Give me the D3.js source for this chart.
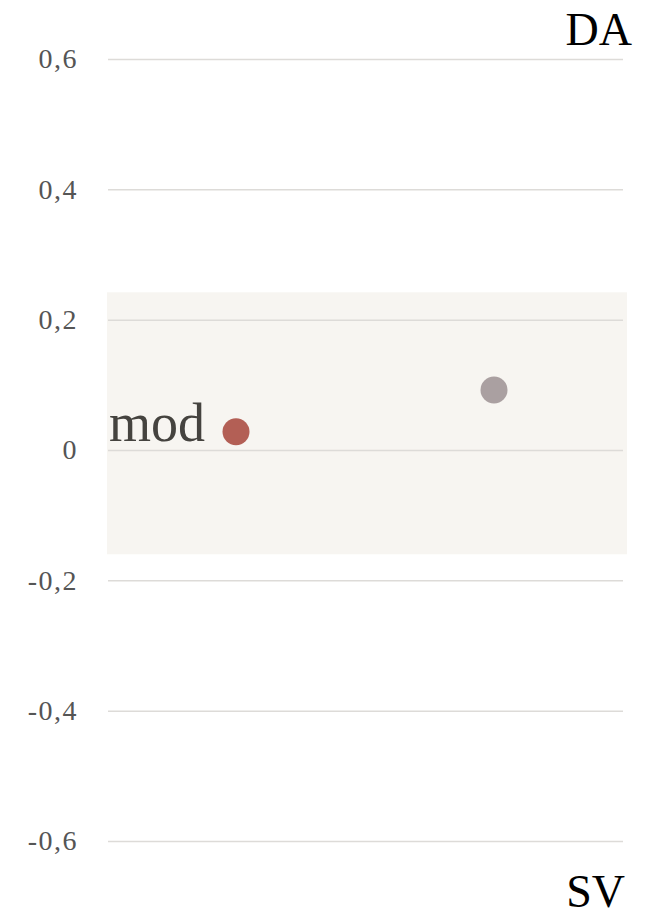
<!DOCTYPE html>
<html>
<head>
<meta charset="utf-8">
<script src="https://cdn.jsdelivr.net/npm/d3@7"></script>
<style>
  html, body { margin: 0; padding: 0; background: #fff; }
  svg { display: block; }
</style>
</head>
<body>
<svg id="chart" width="651" height="917"></svg>
<script>
// ---- data ----
const categories = ["mod", "other"];
const values = [0.028, 0.092];
const pointColors = ["#b35f55", "#aaa0a1"];
const pointLabels = ["mod", ""];
const yTicks = [-0.6, -0.4, -0.2, 0, 0.2, 0.4, 0.6];
const bandRange = [-0.16, 0.242];
const topLabel = "DA";
const bottomLabel = "SV";

// ---- layout ----
const svg = d3.select("#chart");
const plotLeft = 107, plotRight = 627;
const y = d3.scaleLinear().domain([-0.6, 0.6]).range([841, 59]);
const x = d3.scalePoint().domain(categories).range([plotLeft, plotRight - 4]).padding(0.5);
const serif = "'Liberation Serif', 'DejaVu Serif', serif";

// band
svg.append("rect")
  .attr("x", plotLeft).attr("width", plotRight - plotLeft)
  .attr("y", y(bandRange[1])).attr("height", y(bandRange[0]) - y(bandRange[1]))
  .attr("fill", "#f7f5f1");

// axis with gridlines
const fmt = v => v === 0 ? "0" : (v < 0 ? "-" : "") + d3.format(".1f")(Math.abs(v)).replace(".", ",");
const axis = d3.axisLeft(y).tickValues(yTicks).tickFormat(fmt)
  .tickSize(-(623 - 108)).tickPadding(30);
const g = svg.append("g").attr("transform", "translate(108,0)").call(axis);
g.select(".domain").remove();
g.selectAll(".tick line").attr("stroke", "#dddbd8").attr("stroke-width", 1.5);
g.selectAll(".tick text")
  .attr("fill", "#555")
  .style("font-family", serif)
  .style("font-size", "28px")
  .style("letter-spacing", "1.5px")
  .attr("dy", "0.32em");

// points
svg.selectAll("circle.pt").data(values).join("circle")
  .attr("class", "pt")
  .attr("cx", (d, i) => x(categories[i]))
  .attr("cy", d => y(d))
  .attr("r", 13.5)
  .attr("fill", (d, i) => pointColors[i]);

// point labels
svg.selectAll("text.plabel").data(values).join("text")
  .attr("class", "plabel")
  .attr("x", (d, i) => x(categories[i]) - 31)
  .attr("y", d => y(d) + 9)
  .attr("text-anchor", "end")
  .attr("fill", "#45433f")
  .style("font-family", serif)
  .style("font-size", "54px")
  .text((d, i) => pointLabels[i]);

// corner labels
svg.append("text")
  .attr("x", 632).attr("y", 45).attr("text-anchor", "end")
  .attr("fill", "#000").style("font-family", serif).style("font-size", "46px")
  .text(topLabel);
svg.append("text")
  .attr("x", 625).attr("y", 907).attr("text-anchor", "end")
  .attr("fill", "#000").style("font-family", serif).style("font-size", "46px")
  .text(bottomLabel);
</script>
</body>
</html>
